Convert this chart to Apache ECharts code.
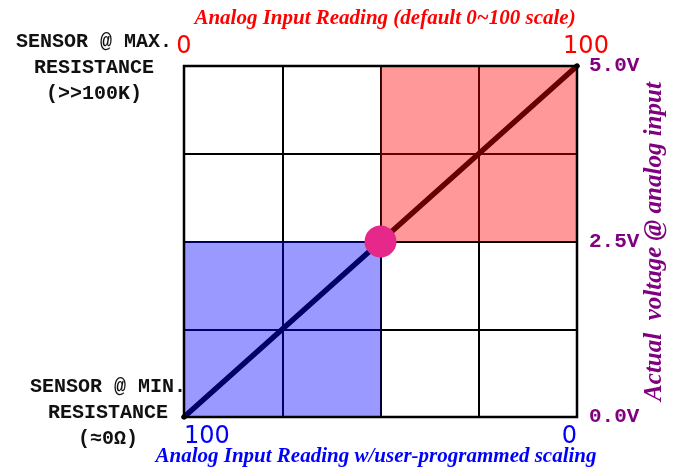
<!DOCTYPE html>
<html>
<head>
<meta charset="utf-8">
<script src="https://cdn.jsdelivr.net/npm/echarts@6/dist/echarts.min.js"></script>
<style>
html,body{margin:0;padding:0;background:#fff;}
#chart{width:674px;height:472px;}
</style>
</head>
<body>
<div id="chart"></div>
<script>
// ---- data ----
const topTicks = [0, 100];            // default scale labels (top)
const bottomTicks = [100, 0];         // user-programmed scale labels (bottom)
const voltTicks = [0, 2.5, 5];        // voltage labels (right)
const diagonal = [[0, 0], [100, 5]];  // reading (default scale) vs volts
const boxes = [
  [0, 0, 50, 2.5],    // user-programmed half (blue)
  [50, 2.5, 100, 5]   // default upper half (red)
];
const crossover = [[50, 2.5]];
const topTitle = 'Analog Input Reading (default 0~100 scale)';
const bottomTitle = 'Analog Input Reading w/user-programmed scaling';
const rightTitle = 'Actual  voltage @ analog input';
const maxNote = 'SENSOR @ MAX.\nRESISTANCE\n(>>100K)';
const minNote = 'SENSOR @ MIN.\nRESISTANCE\n(≈0Ω)';

const boxColors = ['rgba(0,0,255,0.4)', 'rgba(255,0,0,0.4)'];
const serifTitle = { fontFamily: 'Liberation Serif', fontWeight: 'bold', fontStyle: 'italic', fontSize: 21 };
const monoBold = { fontFamily: 'Liberation Mono', fontWeight: 'bold', fontSize: 20 };

const chart = echarts.init(document.getElementById('chart'));
chart.setOption({
  animation: false,
  grid: {
    left: 184, right: 97, top: 66, bottom: 55, containLabel: false, outerBoundsMode: 'none',
    show: true, borderColor: '#000', borderWidth: 2.5, backgroundColor: 'transparent', z: 5
  },
  xAxis: [
    {
      type: 'value', position: 'bottom', min: 0, max: 100, interval: 25, inverse: true,
      axisLine: { show: false }, axisTick: { show: false }, splitLine: { show: false },
      axisLabel: {
        color: '#0000ff', fontFamily: 'DejaVu Sans', fontSize: 24, margin: 8,
        alignMinLabel: 'right', alignMaxLabel: 'left',
        formatter: v => bottomTicks.includes(v) ? String(v) : ''
      },
      name: bottomTitle, nameLocation: 'middle', nameGap: 29, nameMoveOverlap: false,
      nameTextStyle: Object.assign({ color: '#0000ff', padding: [0, 9, 0, 0] }, serifTitle)
    },
    {
      type: 'value', position: 'top', min: 0, max: 100, interval: 25,
      axisLine: { show: false }, axisTick: { show: false },
      splitLine: { show: true, lineStyle: { color: '#000', width: 2 } },
      axisLabel: {
        color: '#ff0000', fontFamily: 'DejaVu Sans', fontSize: 24, margin: 7,
        formatter: v => topTicks.includes(v) ? (v === 100 ? '{r|' + v + '}' : String(v)) : '',
        rich: { r: { color: '#ff0000', fontFamily: 'DejaVu Sans', fontSize: 24, padding: [0, 0, 0, 18] } }
      },
      name: topTitle, nameLocation: 'middle', nameGap: 37, nameMoveOverlap: false,
      nameTextStyle: Object.assign({ color: '#ff0000', padding: [0, 0, 0, 9] }, serifTitle)
    }
  ],
  yAxis: [
    {
      type: 'value', position: 'right', min: 0, max: 5, interval: 1.25,
      axisLine: { show: false }, axisTick: { show: false },
      splitLine: { show: true, lineStyle: { color: '#000', width: 2 } },
      axisLabel: Object.assign({
        color: '#800080', margin: 12,
        formatter: v => voltTicks.includes(v) ? v.toFixed(1) + 'V' : ''
      }, monoBold, { fontSize: 21 }),
      name: rightTitle, nameLocation: 'middle', nameRotate: 90, nameGap: 65, nameMoveOverlap: false,
      nameTextStyle: Object.assign({ color: '#800080', padding: [0, 0, 0, 0] }, serifTitle, { fontSize: 25 })
    }
  ],
  series: [
    {
      type: 'line', xAxisIndex: 1, yAxisIndex: 0, data: diagonal, symbol: 'none', z: 1,
      lineStyle: { color: '#000', width: 5.5, cap: 'round' }
    },
    {
      type: 'custom', xAxisIndex: 1, yAxisIndex: 0, data: boxes, z: 3,
      renderItem: (params, api) => {
        const p0 = api.coord([api.value(0), api.value(1)]);
        const p1 = api.coord([api.value(2), api.value(3)]);
        return {
          type: 'rect',
          shape: { x: Math.min(p0[0], p1[0]), y: Math.min(p0[1], p1[1]), width: Math.abs(p1[0] - p0[0]), height: Math.abs(p1[1] - p0[1]) },
          style: { fill: boxColors[params.dataIndex] }
        };
      }
    },
    {
      type: 'scatter', xAxisIndex: 1, yAxisIndex: 0, data: crossover, symbolSize: 32, z: 4,
      itemStyle: { color: '#e6288a', opacity: 1 }
    }
  ],
  graphic: [
    { type: 'text', z: 10, x: 94, y: 68, style: Object.assign({ text: maxNote, fill: '#111', align: 'center', verticalAlign: 'middle', lineHeight: 26 }, monoBold) },
    { type: 'text', z: 10, x: 108, y: 413, style: Object.assign({ text: minNote, fill: '#111', align: 'center', verticalAlign: 'middle', lineHeight: 26 }, monoBold) }
  ]
});
</script>
</body>
</html>
